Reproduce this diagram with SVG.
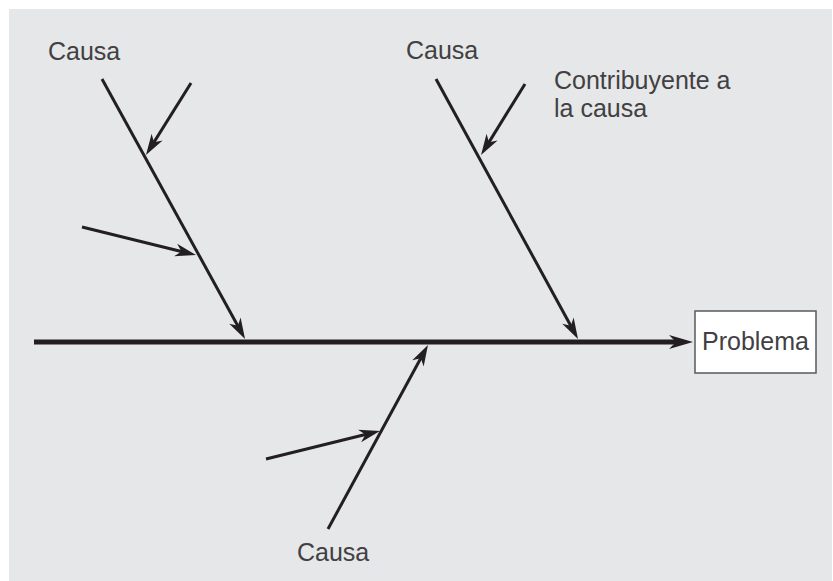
<svg xmlns="http://www.w3.org/2000/svg" width="833" height="581" viewBox="0 0 833 581">
  <style>
    .bone { stroke: #231f20; stroke-width: 3; fill: none; stroke-linecap: butt; }
    .spine { stroke: #231f20; stroke-width: 5; fill: none; }
    .lbl { font-family: "Liberation Sans", Arial, sans-serif; font-size: 25px; fill: #414042; }
  </style>
  <defs>
    <marker id="head" markerUnits="userSpaceOnUse" markerWidth="40" markerHeight="40" refX="-14" refY="0" orient="auto" overflow="visible">
      <path d="M0,0 L-21,-6.5 L-15,0 L-21,6.5 Z" fill="#231f20"/>
    </marker>
    <marker id="head-lg" markerUnits="userSpaceOnUse" markerWidth="40" markerHeight="40" refX="-17" refY="0" orient="auto" overflow="visible">
      <path d="M0,0 L-24,-7 L-17,0 L-24,7 Z" fill="#231f20"/>
    </marker>
  </defs>

  <!-- panel background -->
  <rect x="9" y="9" width="823" height="572" fill="#e6e7e8"/>

  <g id="connectors">
    <!-- spine -->
    <line class="spine" x1="34" y1="342" x2="676" y2="342" marker-end="url(#head-lg)"/>
    <!-- upper left cause -->
    <line class="bone" x1="102" y1="79" x2="238.3" y2="326.7" marker-end="url(#head)"/>
    <line class="bone" x1="191" y1="83" x2="153.4" y2="143.1" marker-end="url(#head)"/>
    <line class="bone" x1="82" y1="227" x2="182.4" y2="251.7" marker-end="url(#head)"/>
    <!-- upper right cause -->
    <line class="bone" x1="436" y1="79" x2="571.3" y2="326.7" marker-end="url(#head)"/>
    <line class="bone" x1="525" y1="84" x2="488.4" y2="143.1" marker-end="url(#head)"/>
    <!-- lower cause -->
    <line class="bone" x1="328" y1="529" x2="421.3" y2="357.3" marker-end="url(#head)"/>
    <line class="bone" x1="266" y1="459" x2="366.4" y2="434.3" marker-end="url(#head)"/>
  </g>

  <g id="problema">
    <rect x="695" y="311" width="121" height="62" fill="#ffffff" stroke="#58595b" stroke-width="1.5"/>
    <text class="lbl" x="755.5" y="350" text-anchor="middle">Problema</text>
  </g>

  <g id="causa-izq">
    <text class="lbl" x="48" y="60">Causa</text>
  </g>
  <g id="causa-der">
    <text class="lbl" x="406" y="59">Causa</text>
  </g>
  <g id="contribuyente">
    <text class="lbl" x="554" y="89">Contribuyente a</text>
    <text class="lbl" x="554" y="117">la causa</text>
  </g>
  <g id="causa-inf">
    <text class="lbl" x="297" y="561">Causa</text>
  </g>
</svg>
